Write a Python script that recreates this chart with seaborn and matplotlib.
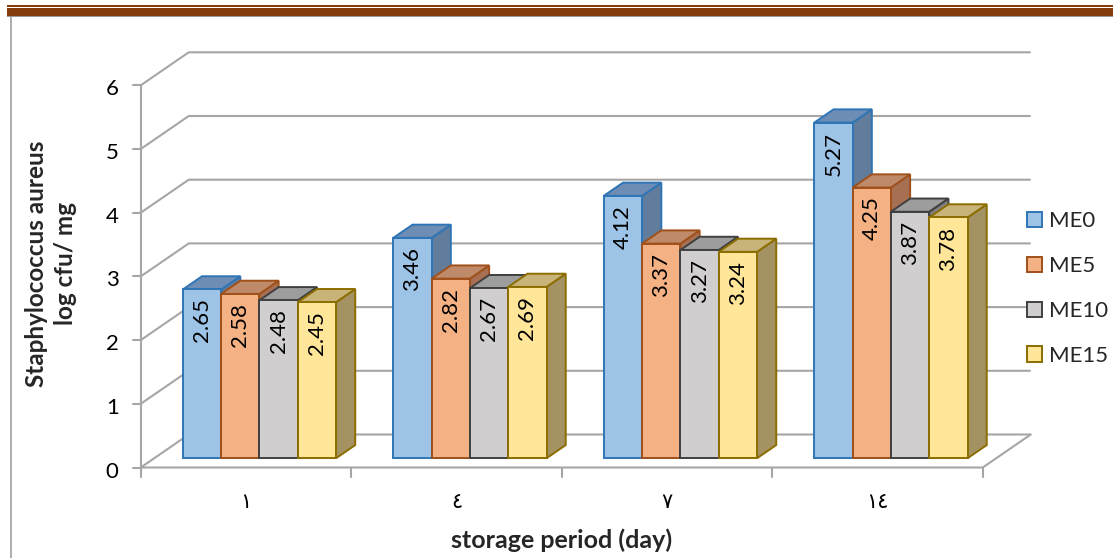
import numpy as np
import pandas as pd
import matplotlib
matplotlib.use("Agg")
import matplotlib.pyplot as plt
import matplotlib.colors as mcolors
from matplotlib.patches import Polygon, Rectangle, Patch
from matplotlib.lines import Line2D
import seaborn as sns

# ---- data -------------------------------------------------------------
days = ["١", "٤", "٧", "١٤"]
series = ["ME0", "ME5", "ME10", "ME15"]
me0 = [2.65, 3.46, 4.12, 5.27]
me5 = [2.58, 2.82, 3.37, 4.25]
me10 = [2.48, 2.67, 3.27, 3.87]
me15 = [2.45, 2.69, 3.24, 3.78]
y_ticks = [0, 1, 2, 3, 4, 5, 6]

# ---- styling ----------------------------------------------------------
face_colors = ["#9DC3E6", "#F4B183", "#D0CECE", "#FFE699"]
edge_colors = ["#2E75B6", "#A0501A", "#404040", "#8C6D00"]
top_colors = ["#6E8DB5", "#BE8A6A", "#9D9D9D", "#C8B378"]
side_colors = ["#627C9C", "#A87052", "#808080", "#A49263"]
grid_color = "#A6A6A6"
brown = "#843C0C"

W, H = 1113, 558
PX_PER_CAT = 210.5      # horizontal size of one category on the front edge
PX_PER_UNIT = 63.7      # vertical size of one log unit
X0_PX = 246.0           # centre of the first category
Y0_PX = 467.5           # value 0 on the front edge
DX = 48 / PX_PER_CAT    # oblique depth offset (x)
DY = 33 / PX_PER_UNIT   # oblique depth offset (y)
BAR_FRONT = 0.28        # depth fraction of the bar front faces
BAR_BACK = 0.68         # depth fraction of the bar back faces

sns.set_theme(style="white")
plt.rcParams["font.family"] = ["Lato", "DejaVu Sans"]

fig = plt.figure(figsize=(W / 100, H / 100), dpi=100)
ax = fig.add_axes([0, 0, 1, 1])

df = pd.DataFrame({
    "day": days * len(series),
    "series": np.repeat(series, len(days)),
    "value": me0 + me5 + me10 + me15,
})

sns.barplot(data=df, x="day", y="value", hue="series", order=days,
            hue_order=series, palette=face_colors, saturation=1,
            width=4 * 38.3 / PX_PER_CAT, dodge=True, gap=0,
            errorbar=None, legend=False, ax=ax)

px_x = 1 / PX_PER_CAT
px_y = 1 / PX_PER_UNIT

# ---- turn the flat bars into oblique boxes ------------------------------
face_rgba = [mcolors.to_rgba(c) for c in face_colors]
bars = sorted(ax.patches, key=lambda p: p.get_x())
ddx = (BAR_BACK - BAR_FRONT) * DX
ddy = (BAR_BACK - BAR_FRONT) * DY
for i, p in enumerate(bars):
    fc = p.get_facecolor()
    k = int(np.argmin([np.sum((np.array(fc) - np.array(c)) ** 2) for c in face_rgba]))
    x = p.get_x() + BAR_FRONT * DX
    y0 = BAR_FRONT * DY
    w = p.get_width()
    h = p.get_height()
    z = 3 + i * 0.01
    p.set_x(x)
    p.set_y(y0)
    p.set_edgecolor(edge_colors[k])
    p.set_linewidth(1.4)
    p.set_zorder(z + 0.005)
    side = Polygon([(x + w, y0), (x + w + ddx, y0 + ddy),
                    (x + w + ddx, y0 + h + ddy), (x + w, y0 + h)],
                   closed=True, facecolor=side_colors[k],
                   edgecolor=edge_colors[k], linewidth=1.4, zorder=z)
    top = Polygon([(x, y0 + h), (x + w, y0 + h),
                   (x + w + ddx, y0 + h + ddy), (x + ddx, y0 + h + ddy)],
                  closed=True, facecolor=top_colors[k],
                  edgecolor=edge_colors[k], linewidth=1.4, zorder=z)
    ax.add_patch(side)
    ax.add_patch(top)
    ax.text(x + w / 2, y0 + h - 9 * px_y, f"{h:.2f}", rotation=90,
            ha="center", va="top", fontsize=16, color="black", zorder=10)

# ---- walls, floor and axis ------------------------------------------
xl, xr = -0.5, len(days) - 0.5
for v in y_ticks:
    ax.plot([xl, xl + DX, xr + DX], [v, v + DY, v + DY],
            color=grid_color, lw=1.5, zorder=1, solid_capstyle="butt")
    ax.plot([xl - 8 * px_x, xl], [v, v], color=grid_color, lw=1.5, zorder=1)
    ax.text(xl - 22 * px_x, v - 4 * px_y, str(v), ha="right", va="center",
            fontsize=16, color="black")
ax.plot([xl, xr, xr + DX], [0, 0, DY], color=grid_color, lw=1.5, zorder=2)
ax.plot([xl, xl], [0, y_ticks[-1]], color=grid_color, lw=1.5, zorder=2)
for i in range(len(days) + 1):
    ax.plot([xl + i, xl + i], [0, -9 * px_y], color=grid_color, lw=1.5, zorder=2)
for i, d in enumerate(days):
    ax.text(i, -34 * px_y, d, ha="center", va="center", fontsize=15,
            family=["DejaVu Sans"], color="black")

ax.text((len(days) - 1) / 2, -72.5 * px_y, "storage period (day)",
        ha="center", va="center", fontsize=18, fontweight="bold")
ax.text(xl - 90 * px_x, 3.2,
        "Staphylococcus aureus\nlog cfu/ mg", rotation=90, ha="center",
        va="center", multialignment="center", fontsize=17.5,
        fontweight="bold", linespacing=1.3)

ax.set_xlim(-X0_PX / PX_PER_CAT, (W - X0_PX) / PX_PER_CAT)
ax.set_ylim((Y0_PX - H) / PX_PER_UNIT, Y0_PX / PX_PER_UNIT)
ax.axis("off")

# ---- legend -------------------------------------------------------------
handles = [Patch(facecolor=f, edgecolor=e, linewidth=1.4)
           for f, e in zip(face_colors, edge_colors)]
fig.legend(handles, series, loc="center left",
           bbox_to_anchor=(1027 / W, 1 - 288.5 / H), frameon=False,
           fontsize=16, handlelength=0.68, handleheight=0.68,
           handletextpad=0.3, labelspacing=1.12, borderpad=0,
           borderaxespad=0)

# ---- page decoration ----------------------------------------------------
fig.add_artist(Rectangle((7 / W, 1 - 6.8 / H), 1, 2 / H, transform=fig.transFigure,
                         facecolor=brown, edgecolor="none"))
fig.add_artist(Rectangle((7 / W, 1 - 16.3 / H), 1, 8.3 / H, transform=fig.transFigure,
                         facecolor=brown, edgecolor="none"))
fig.add_artist(Rectangle((7 / W, 1 - 17.3 / H), 1, 1 / H, transform=fig.transFigure,
                         facecolor="#9A9A9A", edgecolor="none"))
fig.add_artist(Line2D([10.5 / W, 10.5 / W], [0, 1 - 17 / H], transform=fig.transFigure,
                      color="#A0A0A0", lw=1.2))

fig.savefig("out.png", dpi=100, facecolor="white")
